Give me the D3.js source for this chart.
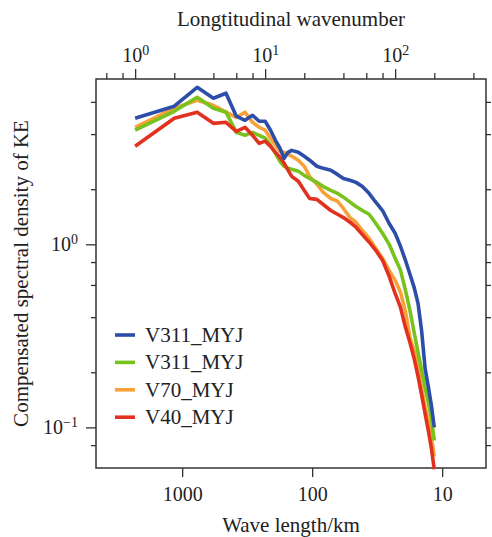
<!DOCTYPE html>
<meta charset="utf-8">
<head>
    <title>Compensated KE spectra</title>
    <script src="https://d3js.org/d3.v7.min.js"></script>
</head>

<style>
body { margin: 0; background: #fff; }
svg { font-family: "Liberation Serif", "Times New Roman", serif; }
.axis path { display: none; }
.axis line { stroke: #333; stroke-width: 1.3; }
.axis text { fill: #222; font-size: 20px; font-family: "Liberation Serif", serif; }
.title { fill: #222; font-size: 21px; }
</style>

<body>

<svg></svg>

<script>

// longitudinal wavenumbers where the spectra are read
let wavenumbers = [1, 2, 3, 4, 5, 6, 7, 8, 9, 10, 11, 12, 13, 14, 15, 16, 18, 20, 22, 25,
  28, 32, 36, 40, 45, 50, 56, 63, 70, 80, 90, 100, 110, 120, 130, 140, 150, 160, 170, 180, 190, 200];

let seriesNames = ["V311_MYJ", "V311_MYJ", "V70_MYJ", "V40_MYJ"];

let v311Blue = [4.88, 5.68, 7.21, 6.28, 6.69, 5.01, 4.76, 5.07, 4.70, 4.70, 4.20, 3.70, 3.35, 2.95, 3.18, 3.26,
  3.18, 3.03, 2.88, 2.67, 2.60, 2.54, 2.41, 2.29, 2.24, 2.18, 2.07, 1.90, 1.72, 1.53, 1.30, 1.15,
  0.975, 0.818, 0.686, 0.582, 0.476, 0.335, 0.210, 0.167, 0.132, 0.100];

let v311Green = [4.20, 5.33, 6.36, 5.54, 5.27, 4.09, 3.94, 4.09, 3.94, 3.80, 3.48, 3.14, 2.84, 2.67, 2.60, 2.57,
  2.51, 2.38, 2.29, 2.18, 2.07, 1.97, 1.90, 1.81, 1.70, 1.61, 1.53, 1.46, 1.32, 1.15, 1.00, 0.839,
  0.721, 0.561, 0.436, 0.330, 0.257, 0.205, 0.165, 0.137, 0.112, 0.0849];

let v70Orange = [4.36, 5.54, 6.12, 5.75, 5.27, 4.94, 5.27, 4.64, 4.36, 4.20, 3.80, 3.48, 3.22, 3.18, 3.10, 3.03,
  2.88, 2.67, 2.35, 2.13, 1.92, 1.78, 1.72, 1.57, 1.40, 1.32, 1.19, 1.08, 0.963, 0.839, 0.721, 0.636,
  0.547, 0.430, 0.310, 0.263, 0.213, 0.163, 0.129, 0.108, 0.0882, 0.0694];

let v40Red = [3.43, 4.88, 5.27, 4.58, 4.64, 4.14, 4.36, 3.94, 3.56, 3.66, 3.43, 3.18, 2.99, 2.77, 2.54, 2.35,
  2.21, 1.97, 1.78, 1.76, 1.65, 1.53, 1.46, 1.40, 1.32, 1.24, 1.13, 1.03, 0.939, 0.818, 0.669, 0.540,
  0.452, 0.352, 0.291, 0.238, 0.190, 0.150, 0.119, 0.0963, 0.0768, 0.059];

let colors = ["#2c4ea8", "#78c21c", "#f8a137", "#e2321f"];

// tick values
let topMajor = [1, 10, 100];
let topMinor = [0.6, 0.8, 2, 4, 6, 8, 20, 40, 60, 80, 200, 400];
let bottomTicks = [1000, 100, 10];
let yMajor = [0.1, 1];
let yMinor = [0.08, 0.2, 0.4, 0.6, 0.8, 2, 4, 6];

// wavelength (km) of wavenumber 1
let lengthOfWave1 = 2300;

let margin = {top: 79, right: 6, bottom: 69, left: 96};
let width = 492 - margin.left - margin.right;
let height = 537 - margin.top - margin.bottom;

let x = d3.scaleLog().domain([0.5, 500]).range([0, width]);
let xLen = d3.scaleLog().domain([lengthOfWave1 / 0.5, lengthOfWave1 / 500]).range([0, width]);
let y = d3.scaleLog().domain([0.06, 8]).range([height, 0]);

let svg = d3.select("svg")
    .attr("width", 492)
    .attr("height", 537)
    .append("g")
    .attr("transform", "translate(" + margin.left + "," + margin.top + ")");

// put a power of ten label into a tick text
function powerLabel(sel) {
  sel.each(function(d) {
    let t = d3.select(this);
    t.text(null);
    t.append("tspan").text("10");
    t.append("tspan")
      .attr("dy", "-0.5em")
      .attr("font-size", "14px")
      .text(String(Math.round(Math.log10(d))).replace("-", "\u2212"));
  });
}

// top axis
svg.append("g").attr("class", "axis")
  .call(d3.axisTop(x).tickValues(topMinor).tickSize(6).tickFormat(""));
svg.append("g").attr("class", "axis top-major")
  .call(d3.axisTop(x).tickValues(topMajor).tickSize(10).tickPadding(7));
svg.select(".top-major").selectAll(".tick text").call(powerLabel);

// bottom axis
svg.append("g").attr("class", "axis")
  .attr("transform", "translate(0," + height + ")")
  .call(d3.axisBottom(xLen).tickValues(bottomTicks).tickSize(9).tickPadding(10).tickFormat(d3.format("d")));

// left axis
svg.append("g").attr("class", "axis")
  .call(d3.axisLeft(y).tickValues(yMinor).tickSize(5).tickFormat(""));
svg.append("g").attr("class", "axis left-major")
  .call(d3.axisLeft(y).tickValues(yMajor).tickSize(10).tickPadding(8));
svg.select(".left-major").selectAll(".tick text").call(powerLabel);

// right axis
svg.append("g").attr("class", "axis")
  .attr("transform", "translate(" + width + ",0)")
  .call(d3.axisRight(y).tickValues(yMinor.concat(yMajor)).tickSize(5).tickFormat(""));

// frame
svg.append("rect")
  .attr("width", width)
  .attr("height", height)
  .attr("fill", "none")
  .attr("stroke", "#333")
  .attr("stroke-width", 1.5);

// lines
let allSeries = [v311Blue, v311Green, v70Orange, v40Red];
let line = d3.line()
  .x(function(d, i) { return x(wavenumbers[i]); })
  .y(function(d) { return y(d); });

[2, 1, 3, 0].forEach(function(i) {
  svg.append("path")
    .datum(allSeries[i])
    .attr("fill", "none")
    .attr("stroke", colors[i])
    .attr("stroke-width", 3.6)
    .attr("stroke-linejoin", "round")
    .attr("d", line);
});

// legend
let legend = svg.append("g").attr("transform", "translate(19,256)");
seriesNames.forEach(function(name, i) {
  let row = legend.append("g").attr("transform", "translate(0," + (i * 27.4) + ")");
  row.append("line")
    .attr("x1", 0).attr("x2", 20)
    .attr("stroke", colors[i])
    .attr("stroke-width", 3.6);
  row.append("text")
    .attr("class", "title")
    .attr("x", 30)
    .attr("y", 7)
    .text(name);
});

// axis titles
svg.append("text").attr("class", "title")
  .attr("x", width / 2).attr("y", -53)
  .attr("text-anchor", "middle")
  .text("Longtitudinal wavenumber");

svg.append("text").attr("class", "title")
  .attr("x", width / 2).attr("y", height + 64)
  .attr("text-anchor", "middle")
  .text("Wave length/km");

svg.append("text").attr("class", "title")
  .attr("transform", "translate(-68," + (height / 2) + ") rotate(-90)")
  .attr("text-anchor", "middle")
  .text("Compensated spectral density of KE");

</script>

</body>
